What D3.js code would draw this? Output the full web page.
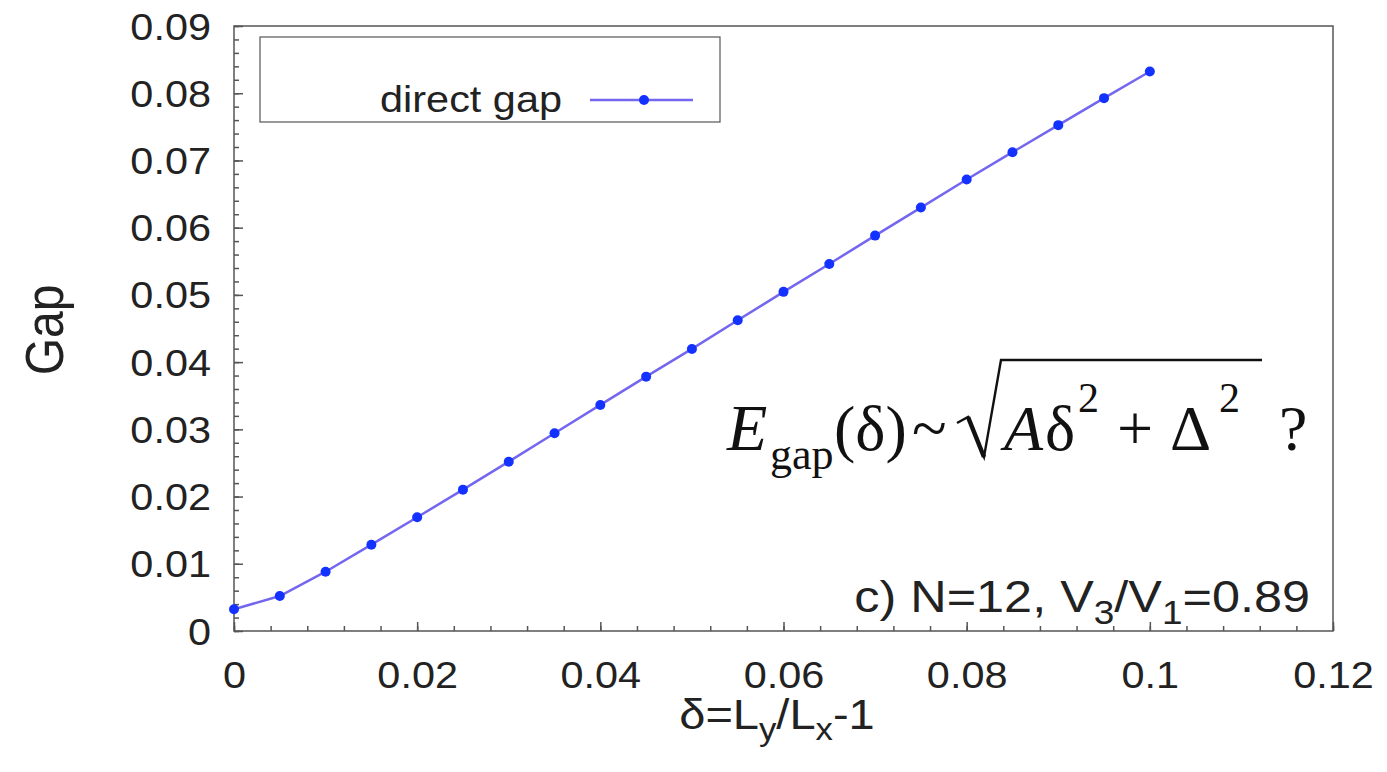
<!DOCTYPE html>
<html>
<head>
<meta charset="utf-8">
<script src="https://cdn.jsdelivr.net/npm/d3@7"></script>
<style>
  body { margin: 0; background: #fff; }
  svg { display: block; }
  text { fill: #222; font-family: "Liberation Sans", Arial, sans-serif; }
</style>
</head>
<body>
<svg width="1387" height="772"></svg>
<script>
// data
var delta = [0, 0.005, 0.01, 0.015, 0.02, 0.025, 0.03, 0.035, 0.04, 0.045, 0.05,
  0.055, 0.06, 0.065, 0.07, 0.075, 0.08, 0.085, 0.09, 0.095, 0.1];
var gap = [0.00323, 0.0052, 0.00882, 0.01284, 0.01692, 0.02103, 0.02519, 0.02942,
  0.03363, 0.03784, 0.04196, 0.04623, 0.05045, 0.0546, 0.05882, 0.06299, 0.06716,
  0.07123, 0.07525, 0.07927, 0.08323];
var xTicks = [0, 0.02, 0.04, 0.06, 0.08, 0.1, 0.12];
var xTickLabels = ["0", "0.02", "0.04", "0.06", "0.08", "0.1", "0.12"];
var yTicks = [0, 0.01, 0.02, 0.03, 0.04, 0.05, 0.06, 0.07, 0.08, 0.09];
var yTickLabels = ["0", "0.01", "0.02", "0.03", "0.04", "0.05", "0.06", "0.07", "0.08", "0.09"];

var sx = 1.12; // the source picture is a bit wide, stretch text to match
var svg = d3.select("svg"),
  margin = { left: 234, top: 26, right: 54, bottom: 141 },
  width = 1387 - margin.left - margin.right,
  height = 772 - margin.top - margin.bottom;

var x = d3.scaleLinear().domain([0, 0.12]).range([0, width]);
var y = d3.scaleLinear().domain([0, 0.09]).range([height, 0]);

var g = svg.append("g")
  .attr("transform", "translate(" + margin.left + "," + margin.top + ")");

// minor ticks
var xMinor = d3.range(0, 0.1201, 0.004);
var yMinor = d3.range(0, 0.0901, 0.002);
g.append("g")
  .attr("transform", "translate(0," + height + ")")
  .call(d3.axisBottom(x).tickValues(xMinor).tickSize(-5).tickFormat(""))
  .call(function (a) { a.select(".domain").remove(); });
g.append("g")
  .call(d3.axisLeft(y).tickValues(yMinor).tickSize(-5).tickFormat(""))
  .call(function (a) { a.select(".domain").remove(); });

// major ticks + labels
var xAxis = g.append("g")
  .attr("transform", "translate(0," + height + ")")
  .call(d3.axisBottom(x).tickValues(xTicks).tickSize(-9).tickPadding(0)
    .tickFormat(function (d, i) { return xTickLabels[i]; }));
xAxis.select(".domain").remove();
xAxis.selectAll("text")
  .attr("y", 0).attr("dy", null)
  .attr("transform", "translate(0,57) scale(" + sx + ",1)")
  .style("font-size", "37px");

var yAxis = g.append("g")
  .call(d3.axisLeft(y).tickValues(yTicks).tickSize(-9).tickPadding(0)
    .tickFormat(function (d, i) { return yTickLabels[i]; }));
yAxis.select(".domain").remove();
yAxis.selectAll("text")
  .attr("x", 0).attr("dy", null)
  .attr("transform", "translate(-23,13) scale(" + sx + ",1)")
  .style("font-size", "37px");

svg.selectAll(".tick line").attr("stroke", "#555").attr("stroke-width", 1.5);

// frame
g.append("rect")
  .attr("width", width).attr("height", height)
  .attr("fill", "none").attr("stroke", "#555").attr("stroke-width", 1.5);

// series
var line = d3.line()
  .x(function (d, i) { return x(delta[i]); })
  .y(function (d) { return y(d); });
g.append("path")
  .datum(gap)
  .attr("d", line)
  .attr("fill", "none")
  .attr("stroke", "#7466ef")
  .attr("stroke-width", 2.5);
g.selectAll("circle.pt")
  .data(gap)
  .enter()
  .append("circle")
  .attr("class", "pt")
  .attr("cx", function (d, i) { return x(delta[i]); })
  .attr("cy", function (d) { return y(d); })
  .attr("r", 5)
  .attr("fill", "#1432ff");

// legend
svg.append("rect")
  .attr("x", 260).attr("y", 37).attr("width", 460).attr("height", 85)
  .attr("fill", "#fff").attr("stroke", "#555").attr("stroke-width", 1.2);
svg.append("text")
  .attr("transform", "translate(562,112) scale(" + sx + ",1)")
  .attr("text-anchor", "end")
  .style("font-size", "37px")
  .text("direct gap");
svg.append("line")
  .attr("x1", 590).attr("x2", 693).attr("y1", 100).attr("y2", 100)
  .attr("stroke", "#7466ef").attr("stroke-width", 2.5);
svg.append("circle")
  .attr("cx", 644).attr("cy", 100).attr("r", 5).attr("fill", "#1432ff");

// axis titles
svg.append("text")
  .attr("transform", "translate(63,330) rotate(-90) scale(1," + sx + ")")
  .attr("text-anchor", "middle")
  .style("font-size", "48px")
  .text("Gap");

var xt = svg.append("text")
  .attr("transform", "translate(777,729) scale(" + sx + ",1)")
  .attr("text-anchor", "middle")
  .style("font-size", "42px");
xt.append("tspan").text("δ=L");
xt.append("tspan").attr("dy", 11).style("font-size", "31px").text("y");
xt.append("tspan").attr("dy", -11).text("/L");
xt.append("tspan").attr("dy", 11).style("font-size", "31px").text("x");
xt.append("tspan").attr("dy", -11).text("-1");

// panel note
var note = svg.append("text")
  .attr("transform", "translate(1310,612) scale(" + sx + ",1)")
  .attr("text-anchor", "end")
  .style("font-size", "45px");
note.append("tspan").text("c) N=12, V");
note.append("tspan").attr("dy", 12).style("font-size", "33px").text("3");
note.append("tspan").attr("dy", -12).text("/V");
note.append("tspan").attr("dy", 12).style("font-size", "33px").text("1");
note.append("tspan").attr("dy", -12).text("=0.89");

// formula E_gap(δ) ~ sqrt(Aδ² + Δ²) ?
var f = svg.append("g").attr("transform", "translate(0,450)");
function piece(t, px, size, dy, italic) {
  f.append("text")
    .attr("x", px).attr("y", dy)
    .style("font-family", "'Liberation Serif', 'Times New Roman', serif")
    .style("font-size", size + "px")
    .style("font-style", italic ? "italic" : "normal")
    .style("fill", "#111")
    .text(t);
}
piece("E", 727, 66, 0, true);
piece("gap", 770, 44, 19, false);
piece("(δ)", 834, 64, 0, false);
piece("~", 912, 64, 0, false);
piece("A", 1004, 64, 0, true);
piece("δ", 1045, 64, 0, false);
piece("2", 1078, 42, -38, false);
piece("+", 1117, 64, 0, false);
piece("Δ", 1170, 64, 0, false);
piece("2", 1219, 42, -38, false);
piece("?", 1279, 64, 0, false);
f.append("path")
  .attr("d", "M957,-27 L968,-33 L984,7 L1001,-90 L1262,-90")
  .attr("fill", "none").attr("stroke", "#111").attr("stroke-width", 2.4);
f.append("path")
  .attr("d", "M968,-33 L984,7")
  .attr("fill", "none").attr("stroke", "#111").attr("stroke-width", 4.5);
</script>
</body>
</html>
